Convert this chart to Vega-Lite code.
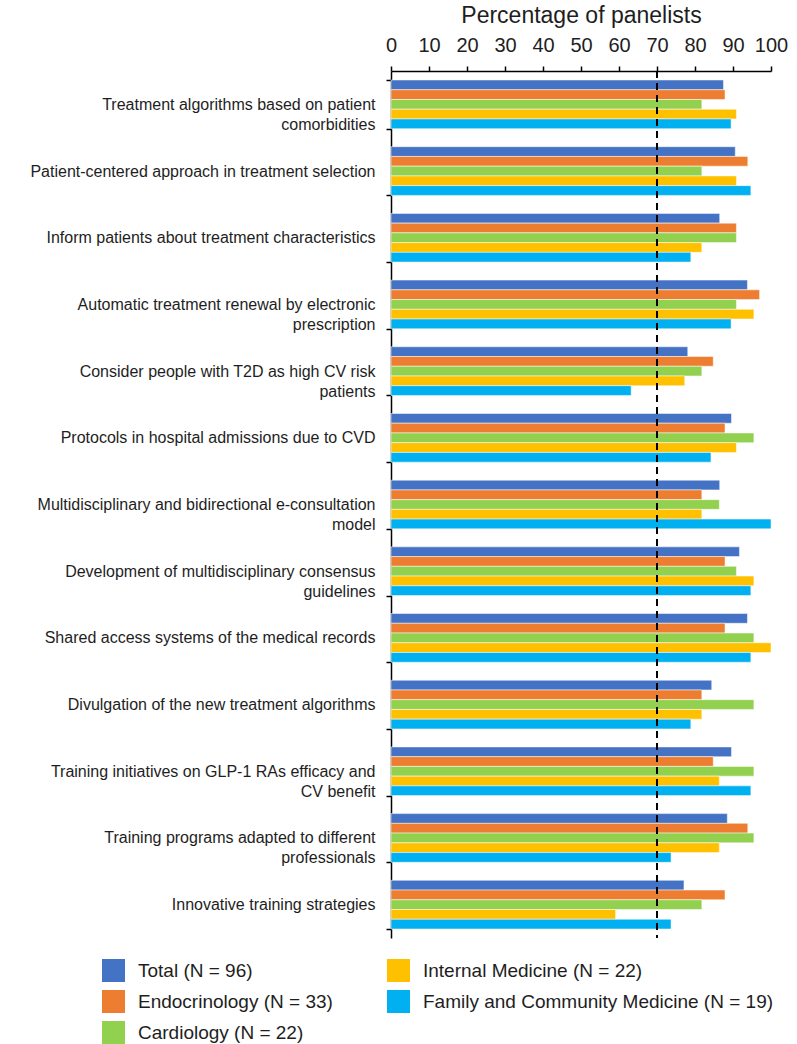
{
  "$schema": "https://vega.github.io/schema/vega-lite/v6.json",
  "width": 380,
  "height": 867,
  "autosize": {"type": "none"},
  "padding": {"left": 391, "top": 71, "right": 26, "bottom": 106},
  "config": {
    "font": "Liberation Sans",
    "view": {"stroke": null},
    "axis": {"grid": false, "labelOverlap": false, "labelSeparation": 0, "domainColor": "black", "tickColor": "black", "labelColor": "#1e1e1e", "titleColor": "#1e1e1e"}
  },
  "data": {"values": [
    {"cat": "Treatment algorithms based on patient|comorbidities", "group": "Total (N = 96)", "pct": 87.5},
    {"cat": "Treatment algorithms based on patient|comorbidities", "group": "Endocrinology (N = 33)", "pct": 87.9},
    {"cat": "Treatment algorithms based on patient|comorbidities", "group": "Cardiology (N = 22)", "pct": 81.8},
    {"cat": "Treatment algorithms based on patient|comorbidities", "group": "Internal Medicine (N = 22)", "pct": 90.9},
    {"cat": "Treatment algorithms based on patient|comorbidities", "group": "Family and Community Medicine (N = 19)", "pct": 89.5},
    {"cat": "Patient-centered approach in treatment selection", "group": "Total (N = 96)", "pct": 90.6},
    {"cat": "Patient-centered approach in treatment selection", "group": "Endocrinology (N = 33)", "pct": 93.9},
    {"cat": "Patient-centered approach in treatment selection", "group": "Cardiology (N = 22)", "pct": 81.8},
    {"cat": "Patient-centered approach in treatment selection", "group": "Internal Medicine (N = 22)", "pct": 90.9},
    {"cat": "Patient-centered approach in treatment selection", "group": "Family and Community Medicine (N = 19)", "pct": 94.7},
    {"cat": "Inform patients about treatment characteristics", "group": "Total (N = 96)", "pct": 86.5},
    {"cat": "Inform patients about treatment characteristics", "group": "Endocrinology (N = 33)", "pct": 90.9},
    {"cat": "Inform patients about treatment characteristics", "group": "Cardiology (N = 22)", "pct": 90.9},
    {"cat": "Inform patients about treatment characteristics", "group": "Internal Medicine (N = 22)", "pct": 81.8},
    {"cat": "Inform patients about treatment characteristics", "group": "Family and Community Medicine (N = 19)", "pct": 78.9},
    {"cat": "Automatic treatment renewal by electronic|prescription", "group": "Total (N = 96)", "pct": 93.8},
    {"cat": "Automatic treatment renewal by electronic|prescription", "group": "Endocrinology (N = 33)", "pct": 97.0},
    {"cat": "Automatic treatment renewal by electronic|prescription", "group": "Cardiology (N = 22)", "pct": 90.9},
    {"cat": "Automatic treatment renewal by electronic|prescription", "group": "Internal Medicine (N = 22)", "pct": 95.5},
    {"cat": "Automatic treatment renewal by electronic|prescription", "group": "Family and Community Medicine (N = 19)", "pct": 89.5},
    {"cat": "Consider people with T2D as high CV risk|patients", "group": "Total (N = 96)", "pct": 78.1},
    {"cat": "Consider people with T2D as high CV risk|patients", "group": "Endocrinology (N = 33)", "pct": 84.8},
    {"cat": "Consider people with T2D as high CV risk|patients", "group": "Cardiology (N = 22)", "pct": 81.8},
    {"cat": "Consider people with T2D as high CV risk|patients", "group": "Internal Medicine (N = 22)", "pct": 77.3},
    {"cat": "Consider people with T2D as high CV risk|patients", "group": "Family and Community Medicine (N = 19)", "pct": 63.2},
    {"cat": "Protocols in hospital admissions due to CVD", "group": "Total (N = 96)", "pct": 89.6},
    {"cat": "Protocols in hospital admissions due to CVD", "group": "Endocrinology (N = 33)", "pct": 87.9},
    {"cat": "Protocols in hospital admissions due to CVD", "group": "Cardiology (N = 22)", "pct": 95.5},
    {"cat": "Protocols in hospital admissions due to CVD", "group": "Internal Medicine (N = 22)", "pct": 90.9},
    {"cat": "Protocols in hospital admissions due to CVD", "group": "Family and Community Medicine (N = 19)", "pct": 84.2},
    {"cat": "Multidisciplinary and bidirectional e-consultation|model", "group": "Total (N = 96)", "pct": 86.5},
    {"cat": "Multidisciplinary and bidirectional e-consultation|model", "group": "Endocrinology (N = 33)", "pct": 81.8},
    {"cat": "Multidisciplinary and bidirectional e-consultation|model", "group": "Cardiology (N = 22)", "pct": 86.4},
    {"cat": "Multidisciplinary and bidirectional e-consultation|model", "group": "Internal Medicine (N = 22)", "pct": 81.8},
    {"cat": "Multidisciplinary and bidirectional e-consultation|model", "group": "Family and Community Medicine (N = 19)", "pct": 100},
    {"cat": "Development of multidisciplinary consensus|guidelines", "group": "Total (N = 96)", "pct": 91.7},
    {"cat": "Development of multidisciplinary consensus|guidelines", "group": "Endocrinology (N = 33)", "pct": 87.9},
    {"cat": "Development of multidisciplinary consensus|guidelines", "group": "Cardiology (N = 22)", "pct": 90.9},
    {"cat": "Development of multidisciplinary consensus|guidelines", "group": "Internal Medicine (N = 22)", "pct": 95.5},
    {"cat": "Development of multidisciplinary consensus|guidelines", "group": "Family and Community Medicine (N = 19)", "pct": 94.7},
    {"cat": "Shared access systems of the medical records", "group": "Total (N = 96)", "pct": 93.8},
    {"cat": "Shared access systems of the medical records", "group": "Endocrinology (N = 33)", "pct": 87.9},
    {"cat": "Shared access systems of the medical records", "group": "Cardiology (N = 22)", "pct": 95.5},
    {"cat": "Shared access systems of the medical records", "group": "Internal Medicine (N = 22)", "pct": 100},
    {"cat": "Shared access systems of the medical records", "group": "Family and Community Medicine (N = 19)", "pct": 94.7},
    {"cat": "Divulgation of the new treatment algorithms", "group": "Total (N = 96)", "pct": 84.4},
    {"cat": "Divulgation of the new treatment algorithms", "group": "Endocrinology (N = 33)", "pct": 81.8},
    {"cat": "Divulgation of the new treatment algorithms", "group": "Cardiology (N = 22)", "pct": 95.5},
    {"cat": "Divulgation of the new treatment algorithms", "group": "Internal Medicine (N = 22)", "pct": 81.8},
    {"cat": "Divulgation of the new treatment algorithms", "group": "Family and Community Medicine (N = 19)", "pct": 78.9},
    {"cat": "Training initiatives on GLP-1 RAs efficacy and|CV benefit", "group": "Total (N = 96)", "pct": 89.6},
    {"cat": "Training initiatives on GLP-1 RAs efficacy and|CV benefit", "group": "Endocrinology (N = 33)", "pct": 84.8},
    {"cat": "Training initiatives on GLP-1 RAs efficacy and|CV benefit", "group": "Cardiology (N = 22)", "pct": 95.5},
    {"cat": "Training initiatives on GLP-1 RAs efficacy and|CV benefit", "group": "Internal Medicine (N = 22)", "pct": 86.4},
    {"cat": "Training initiatives on GLP-1 RAs efficacy and|CV benefit", "group": "Family and Community Medicine (N = 19)", "pct": 94.7},
    {"cat": "Training programs adapted to different|professionals", "group": "Total (N = 96)", "pct": 88.5},
    {"cat": "Training programs adapted to different|professionals", "group": "Endocrinology (N = 33)", "pct": 93.9},
    {"cat": "Training programs adapted to different|professionals", "group": "Cardiology (N = 22)", "pct": 95.5},
    {"cat": "Training programs adapted to different|professionals", "group": "Internal Medicine (N = 22)", "pct": 86.4},
    {"cat": "Training programs adapted to different|professionals", "group": "Family and Community Medicine (N = 19)", "pct": 73.7},
    {"cat": "Innovative training strategies", "group": "Total (N = 96)", "pct": 77.1},
    {"cat": "Innovative training strategies", "group": "Endocrinology (N = 33)", "pct": 87.9},
    {"cat": "Innovative training strategies", "group": "Cardiology (N = 22)", "pct": 81.8},
    {"cat": "Innovative training strategies", "group": "Internal Medicine (N = 22)", "pct": 59.1},
    {"cat": "Innovative training strategies", "group": "Family and Community Medicine (N = 19)", "pct": 73.7}
  ]},
  "encoding": {
    "x": {
      "field": "pct", "type": "quantitative",
      "scale": {"domain": [0, 100], "nice": false},
      "axis": {
        "orient": "top",
        "title": "Percentage of panelists",
        "values": [0, 10, 20, 30, 40, 50, 60, 70, 80, 90, 100],
        "labelOverlap": false,
        "labelSeparation": 0,
        "labelFontSize": 20,
        "titleFontSize": 23,
        "titleFontWeight": "normal",
        "tickSize": 5,
        "tickWidth": 1.5,
        "domainWidth": 1.5,
        "labelPadding": 11,
        "titlePadding": 8,
        "labelFlush": false
      }
    }
  },
  "layer": [
    {
      "mark": {"type": "bar", "stroke": "white", "strokeWidth": 0.5},
      "encoding": {
        "y": {
          "field": "cat", "type": "nominal", "sort": null,
          "scale": {"paddingInner": 0.27, "paddingOuter": 0.135},
          "axis": {
            "title": null,
            "labelExpr": "split(datum.label, '|')",
            "labelFontSize": 16,
            "labelAlign": "right",
            "labelPadding": 11,
            "labelLimit": 500,
            "labelLineHeight": 20,
            "tickSize": 5,
            "tickBand": "extent",
            "domainWidth": 1.5,
            "tickWidth": 1.5
          }
        },
        "yOffset": {
          "field": "group", "type": "nominal",
          "sort": ["Total (N = 96)", "Endocrinology (N = 33)", "Cardiology (N = 22)", "Internal Medicine (N = 22)", "Family and Community Medicine (N = 19)"]
        },
        "color": {
          "field": "group", "type": "nominal",
          "scale": {
            "domain": ["Total (N = 96)", "Endocrinology (N = 33)", "Cardiology (N = 22)", "Internal Medicine (N = 22)", "Family and Community Medicine (N = 19)"],
            "range": ["#4472C4", "#ED7D31", "#92D050", "#FFC000", "#00B0F0"]
          },
          "legend": {
            "title": null,
            "orient": "none",
            "legendX": -289,
            "legendY": 888,
            "columns": 2,
            "padding": 0,
            "symbolType": "square",
            "symbolSize": 529,
            "symbolStrokeWidth": 0,
            "labelFontSize": 19,
            "labelColor": "#1e1e1e",
            "labelLimit": 500,
            "labelOffset": 13,
            "rowPadding": 8,
            "columnPadding": 54
          }
        }
      }
    },
    {
      "mark": {"type": "rule", "strokeDash": [7, 5], "strokeWidth": 2, "color": "black"},
      "encoding": {"x": {"datum": 70, "type": "quantitative"}}
    }
  ]
}
